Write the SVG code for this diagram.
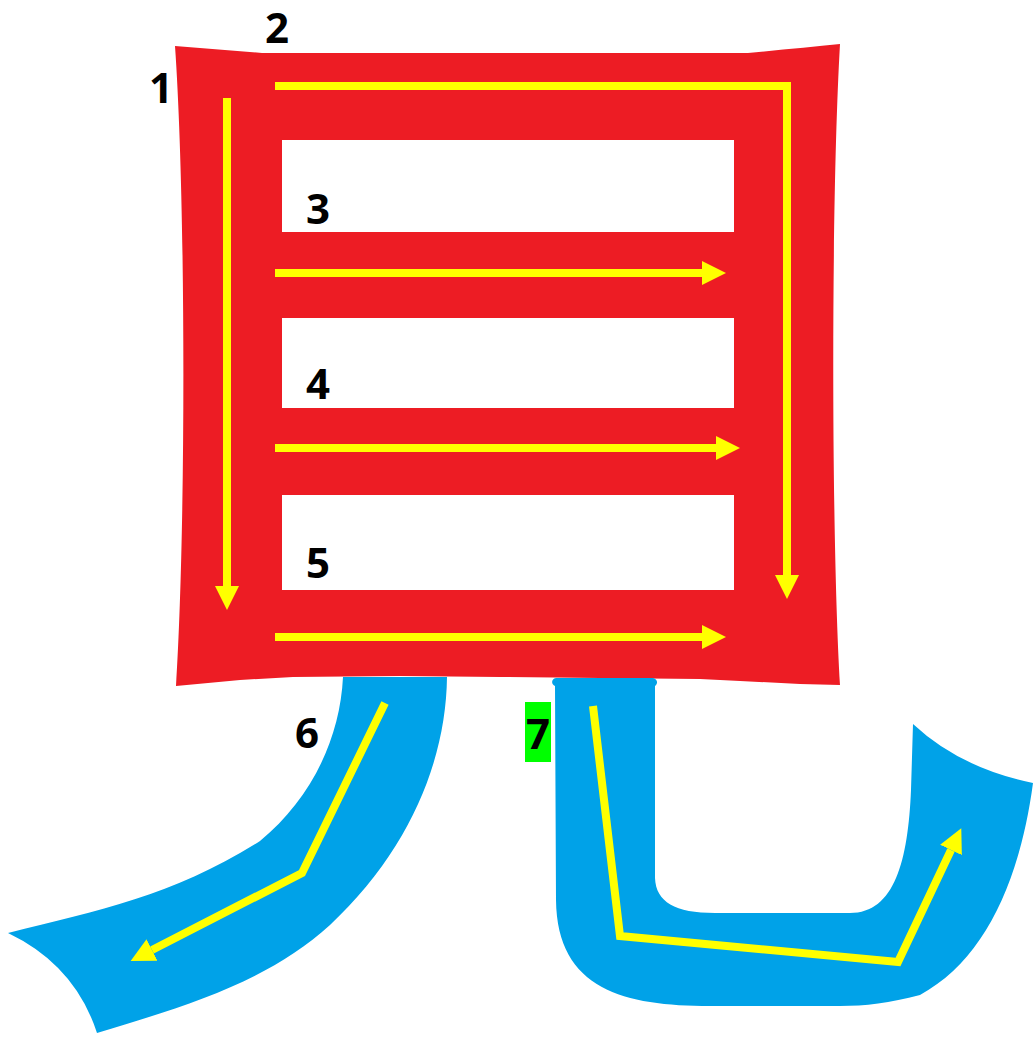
<svg xmlns="http://www.w3.org/2000/svg" width="1033" height="1037" viewBox="0 0 1033 1037">
  <style>
    .red { fill: #ED1C24; }
    .blue { fill: #00A2E8; }
    .guide { fill: none; stroke: #FFFF00; stroke-width: 8; stroke-linejoin: miter; }
    .lbl { font-family: "Open Sans", "Liberation Sans", sans-serif; font-weight: bold; font-size: 42px; fill: #000; text-anchor: middle; }
  </style>
  <defs>
    <marker id="ah" markerUnits="userSpaceOnUse" markerWidth="24" markerHeight="24" viewBox="0 0 24 24" refX="0" refY="12" orient="auto">
      <path d="M0,0 L24,12 L0,24 Z" fill="#FFFF00"/>
    </marker>
  </defs>
  <rect width="1033" height="1037" fill="#FFFFFF"/>

  <g id="stroke-eye">
    <path class="red" fill-rule="evenodd" d="M175,46 L262,53 L748,53 Q800,48 840,44 C831,200 831,530 840,685 L800,684 L740,681 L700,679 L600,678 L500,677 L400,676 L293,677 L240,680 L176,686 C186,530 186,200 175,46 Z M282,140 L734,140 L734,232 L282,232 Z M282,318 L734,318 L734,408 L282,408 Z M282,495 L734,495 L734,590 L282,590 Z"/>
  </g>

  <g id="stroke-6">
    <path class="blue" d="M343,677 L447,677 C446,760 410,850 330,925 C270,980 190,1005 97,1033 Q75,965 8,933 C100,910 175,895 260,841 C310,800 340,740 343,677 Z"/>
  </g>

  <g id="stroke-7">
    <path class="blue" d="M556,678 L653,678 C658,679 658,684 655,686 L655,878 C656,902 675,913 715,913 L850,913 C895,913 908,860 911,790 L913,724 Q960,768 1033,783 C1020,880 985,960 920,995 C890,1003 865,1006 840,1006 L710,1006 C625,1006 557,990 556,900 L555,686 C551,684 551,679 556,678 Z"/>
  </g>

  <g id="connectors">
    <path class="guide" d="M227,98 L227,586" marker-end="url(#ah)"/>
    <path class="guide" d="M275,86 L787,86 L787,575" marker-end="url(#ah)"/>
    <path class="guide" d="M275,273 L702,273" marker-end="url(#ah)"/>
    <path class="guide" d="M275,448 L716,448" marker-end="url(#ah)"/>
    <path class="guide" d="M275,637 L702,637" marker-end="url(#ah)"/>
    <path class="guide" d="M385,703 L302,873 L152,950" marker-end="url(#ah)"/>
    <path class="guide" d="M593,706 L620,936 L898,962 L951,850" marker-end="url(#ah)"/>
  </g>

  <g id="labels">
    <text class="lbl" x="161" y="103">1</text>
    <text class="lbl" x="277" y="43">2</text>
    <text class="lbl" x="318" y="224">3</text>
    <text class="lbl" x="318" y="399">4</text>
    <text class="lbl" x="318" y="578">5</text>
    <text class="lbl" x="307" y="748">6</text>
    <g id="label-7">
      <rect x="525" y="702" width="26" height="60" fill="#00FF00"/>
      <text class="lbl" x="538" y="749">7</text>
    </g>
  </g>
</svg>
